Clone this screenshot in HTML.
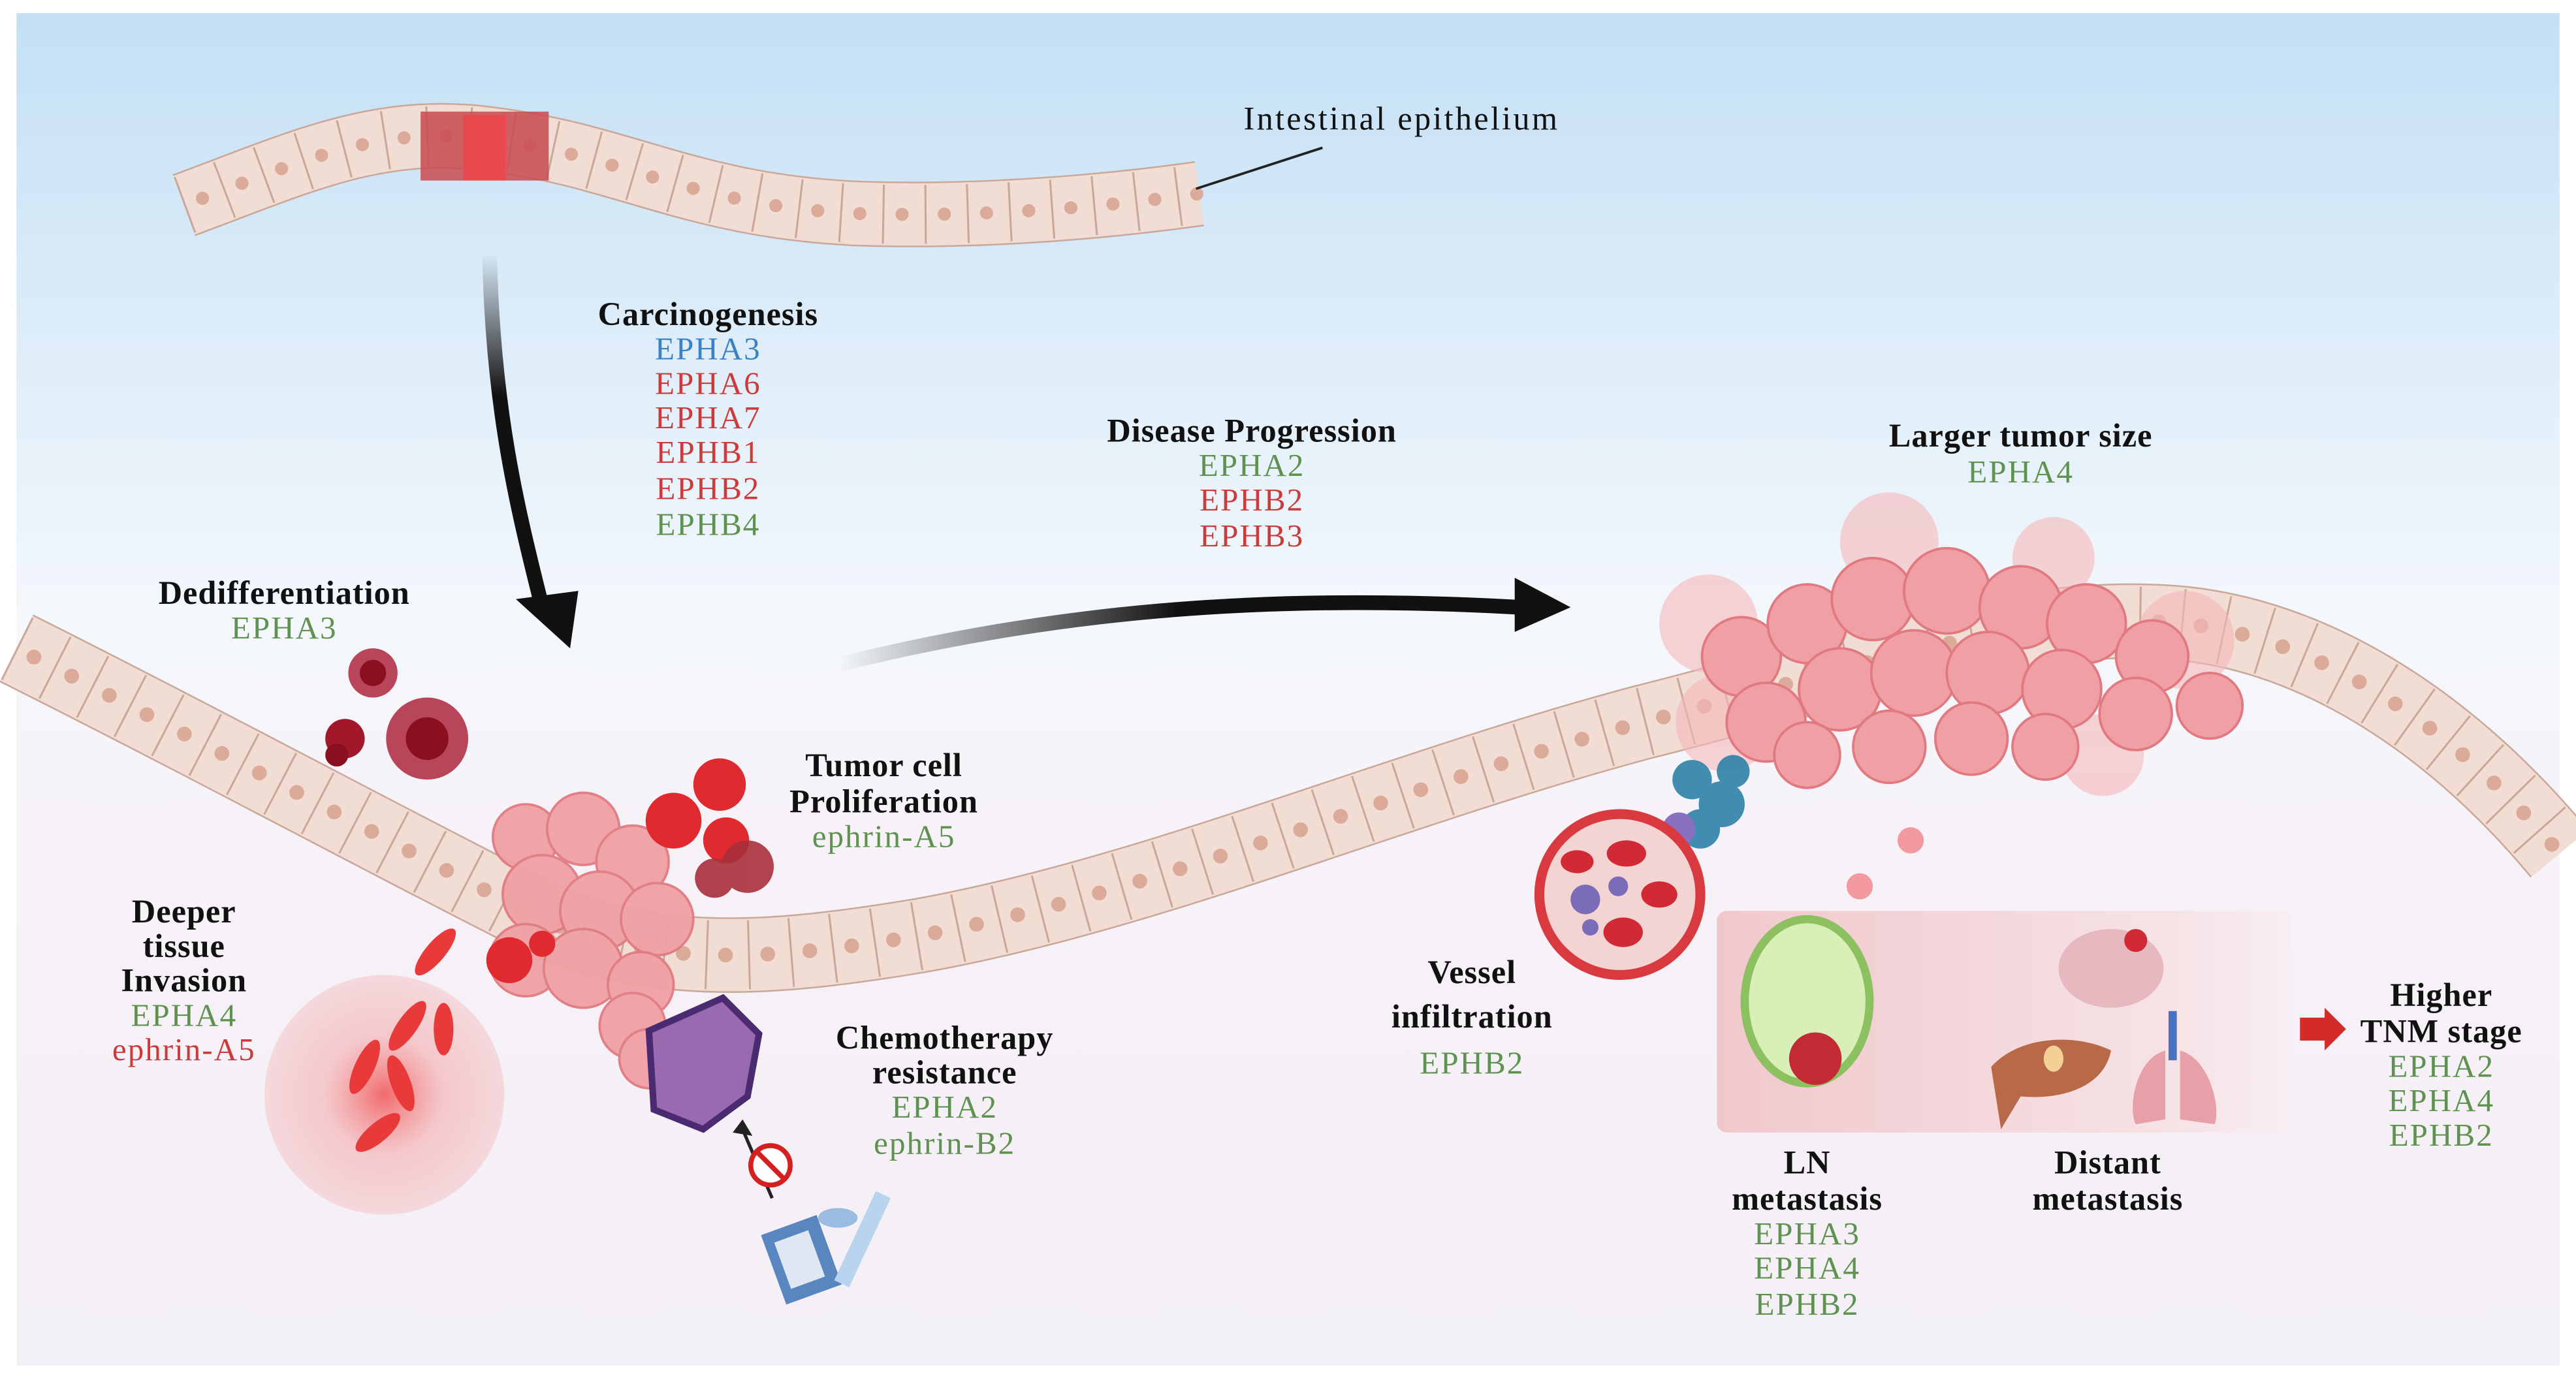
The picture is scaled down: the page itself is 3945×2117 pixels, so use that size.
<!DOCTYPE html>
<html><head><meta charset="utf-8"><style>
html,body{margin:0;padding:0;background:#fff;}
svg{display:block;}
text{font-family:"Liberation Serif",serif;text-anchor:middle;}
.t{font-weight:bold;fill:#111;font-size:20px;letter-spacing:0.4px;}
.g{fill:#5f9150;font-size:19.5px;letter-spacing:0.8px;}
.r{fill:#cc3b3b;font-size:19.5px;letter-spacing:0.8px;}
.b{fill:#3b82c4;font-size:19.5px;letter-spacing:0.8px;}
</style></head><body>
<svg width="3945" height="2117" viewBox="0 0 1568 842" preserveAspectRatio="none" xmlns="http://www.w3.org/2000/svg">
<defs>
<linearGradient id="bg" x1="0" y1="0" x2="0" y2="1">
<stop offset="0" stop-color="#c3e0f5"/><stop offset="0.45" stop-color="#f4f8fc"/><stop offset="0.6" stop-color="#f6f2f7"/><stop offset="1" stop-color="#f3eff6"/></linearGradient>
<linearGradient id="a1" x1="0" y1="0" x2="0" y2="1"><stop offset="0" stop-color="#111" stop-opacity="0"/><stop offset="0.4" stop-color="#111"/></linearGradient>
<linearGradient id="a2" x1="0" y1="0" x2="1" y2="0"><stop offset="0" stop-color="#111" stop-opacity="0"/><stop offset="0.5" stop-color="#111"/></linearGradient>
<radialGradient id="glow"><stop offset="0" stop-color="#f04848" stop-opacity="0.8"/><stop offset="0.5" stop-color="#f4a0a0" stop-opacity="0.5"/><stop offset="1" stop-color="#f4c0c0" stop-opacity="0.5"/></radialGradient>
<linearGradient id="box" x1="0" y1="0" x2="1" y2="0"><stop offset="0" stop-color="#f0c8cc"/><stop offset="0.8" stop-color="#f6e3e6"/><stop offset="1" stop-color="#f8eef2"/></linearGradient>
</defs>
<rect x="10" y="8" width="1548" height="824" fill="url(#bg)"/>
<g fill="none">
<path d="M112,125 C180,100 230,75 300,85 C380,95 420,125 520,130 C600,133 680,125 730,118" stroke="#c9a89a" stroke-width="40"/>
<path d="M112,125 C180,100 230,75 300,85 C380,95 420,125 520,130 C600,133 680,125 730,118" stroke="#f1ddd3" stroke-width="38"/>
<path d="M112,125 C180,100 230,75 300,85 C380,95 420,125 520,130 C600,133 680,125 730,118" stroke="#c9a89a" stroke-width="36" stroke-dasharray="1.2 24.5"/>
<path d="M112,125 C180,100 230,75 300,85 C380,95 420,125 520,130 C600,133 680,125 730,118" stroke="#dcaa98" stroke-width="8" stroke-linecap="round" stroke-dasharray="0 25.7" stroke-dashoffset="-12"/>
</g>
<rect x="256" y="68" width="78" height="42" fill="#c84a50" opacity="0.85"/>
<rect x="282" y="70" width="26" height="40" fill="#e84a50"/>
<line x1="728" y1="115" x2="805" y2="90" stroke="#222" stroke-width="1.5"/>
<g fill="none">
<path d="M10,395 C120,450 250,520 330,560 C400,590 470,585 560,570 C700,545 850,480 1000,440 C1120,410 1230,370 1330,380 C1420,390 1500,450 1558,520" stroke="#c9a89a" stroke-width="46"/>
<path d="M10,395 C120,450 250,520 330,560 C400,590 470,585 560,570 C700,545 850,480 1000,440 C1120,410 1230,370 1330,380 C1420,390 1500,450 1558,520" stroke="#f1ddd3" stroke-width="44"/>
<path d="M10,395 C120,450 250,520 330,560 C400,590 470,585 560,570 C700,545 850,480 1000,440 C1120,410 1230,370 1330,380 C1420,390 1500,450 1558,520" stroke="#c9a89a" stroke-width="42" stroke-dasharray="1.2 24.5"/>
<path d="M10,395 C120,450 250,520 330,560 C400,590 470,585 560,570 C700,545 850,480 1000,440 C1120,410 1230,370 1330,380 C1420,390 1500,450 1558,520" stroke="#dcaa98" stroke-width="9" stroke-linecap="round" stroke-dasharray="0 25.7" stroke-dashoffset="-12"/>
</g>
<path d="M298,155 C300,250 315,310 330,370" stroke="url(#a1)" stroke-width="9" fill="none"/>
<polygon points="314,365 352,360 347,395" fill="#111"/>
<path d="M510,405 C650,370 780,362 925,370" stroke="url(#a2)" stroke-width="9" fill="none"/>
<polygon points="922,352 956,370 922,385" fill="#111"/>
<circle cx="234" cy="667" r="73" fill="url(#glow)"/>
<g fill="#e83a3a"><ellipse cx="248" cy="625" rx="6" ry="18" transform="rotate(35 248 625)"/><ellipse cx="270" cy="627" rx="6" ry="16"/><ellipse cx="222" cy="650" rx="6" ry="18" transform="rotate(25 222 650)"/><ellipse cx="244" cy="660" rx="6" ry="18" transform="rotate(-20 244 660)"/><ellipse cx="230" cy="690" rx="6" ry="17" transform="rotate(50 230 690)"/><ellipse cx="265" cy="580" rx="6" ry="18" transform="rotate(40 265 580)"/></g>
<circle cx="227" cy="410" r="15" fill="#b8455a"/><circle cx="227" cy="410" r="8" fill="#8a1020"/>
<circle cx="260" cy="450" r="25" fill="#b8455a"/><circle cx="260" cy="450" r="13" fill="#8a1020"/>
<circle cx="210" cy="450" r="12" fill="#a0182a"/><circle cx="205" cy="460" r="7" fill="#8a1020"/>
<g fill="#f0a0a4" stroke="#e07a80" stroke-width="1.5" opacity="0.95">
<circle cx="320" cy="510" r="20"/><circle cx="355" cy="505" r="22"/><circle cx="385" cy="525" r="22"/><circle cx="330" cy="545" r="24"/><circle cx="365" cy="555" r="24"/><circle cx="400" cy="560" r="22"/><circle cx="320" cy="585" r="22"/><circle cx="355" cy="590" r="24"/><circle cx="390" cy="600" r="20"/><circle cx="385" cy="625" r="20"/><circle cx="395" cy="645" r="18"/></g>
<g fill="#e02a30"><circle cx="438" cy="478" r="16"/><circle cx="410" cy="500" r="17"/><circle cx="442" cy="512" r="14"/><circle cx="310" cy="585" r="14"/><circle cx="330" cy="575" r="8"/></g>
<g fill="#a8303a" opacity="0.9"><circle cx="455" cy="528" r="16"/><circle cx="435" cy="535" r="12"/></g>
<path d="M395,628 L440,608 L462,630 L455,668 L428,688 L398,676 Z" fill="#9a6ab0" stroke="#4a2a70" stroke-width="4"/>
<line x1="470" y1="730" x2="452" y2="688" stroke="#222" stroke-width="2"/><polygon points="446,690 452,682 458,692" fill="#222"/>
<circle cx="469" cy="710" r="12" fill="#fff" stroke="#d42020" stroke-width="3"/><line x1="461" y1="702" x2="477" y2="718" stroke="#d42020" stroke-width="3"/>
<rect x="470" y="745" width="36" height="45" fill="#5a86c0" transform="rotate(-20 488 768)"/><rect x="476" y="752" width="22" height="30" fill="#dfe8f2" transform="rotate(-20 488 768)"/>
<rect x="520" y="725" width="10" height="60" fill="#b8d4ee" transform="rotate(25 525 755)"/>
<ellipse cx="510" cy="742" rx="12" ry="6" fill="#9cbbe0"/>
<g fill="#f5b8bb" opacity="0.6"><circle cx="1040" cy="380" r="30"/><circle cx="1150" cy="330" r="30"/><circle cx="1250" cy="340" r="25"/><circle cx="1330" cy="390" r="30"/><circle cx="1050" cy="440" r="30"/><circle cx="1280" cy="460" r="25"/></g>
<g fill="#f0a0a4" stroke="#e07a80" stroke-width="1.5">
<circle cx="1060" cy="400" r="24"/><circle cx="1100" cy="380" r="24"/><circle cx="1140" cy="365" r="25"/><circle cx="1185" cy="360" r="26"/><circle cx="1230" cy="370" r="25"/><circle cx="1270" cy="380" r="24"/><circle cx="1310" cy="400" r="22"/><circle cx="1345" cy="430" r="20"/>
<circle cx="1075" cy="440" r="24"/><circle cx="1120" cy="420" r="25"/><circle cx="1165" cy="410" r="26"/><circle cx="1210" cy="410" r="25"/><circle cx="1255" cy="420" r="24"/><circle cx="1300" cy="435" r="22"/>
<circle cx="1100" cy="460" r="20"/><circle cx="1150" cy="455" r="22"/><circle cx="1200" cy="450" r="22"/><circle cx="1245" cy="455" r="20"/></g>
<g fill="#2e82a8" opacity="0.9"><circle cx="1030" cy="475" r="12"/><circle cx="1048" cy="490" r="14"/><circle cx="1035" cy="505" r="12"/><circle cx="1055" cy="470" r="10"/></g>
<circle cx="1022" cy="505" r="10" fill="#8a70c0"/>
<circle cx="986" cy="545" r="52" fill="#d83a40"/><circle cx="986" cy="545" r="46" fill="#f4d4d2"/>
<g fill="#d22a34"><ellipse cx="990" cy="520" rx="12" ry="8"/><ellipse cx="1010" cy="545" rx="11" ry="8"/><ellipse cx="988" cy="568" rx="12" ry="9"/><ellipse cx="960" cy="525" rx="10" ry="7"/></g>
<g fill="#7a6cb8"><circle cx="965" cy="548" r="9"/><circle cx="985" cy="540" r="6"/><circle cx="968" cy="565" r="5"/></g>
<circle cx="1163" cy="512" r="8" fill="#f39aa0"/><circle cx="1132" cy="540" r="8" fill="#f39aa0"/><circle cx="1155" cy="590" r="8" fill="#f39aa0"/>
<rect x="1045" y="555" width="350" height="135" rx="6" fill="url(#box)"/>
<ellipse cx="1100" cy="610" rx="38" ry="50" fill="#d8f0b8" stroke="#8cc060" stroke-width="5"/>
<circle cx="1105" cy="645" r="16" fill="#c22a34"/>
<ellipse cx="1285" cy="590" rx="32" ry="24" fill="#e6b8c0"/><circle cx="1300" cy="573" r="7" fill="#d02a34"/>
<path d="M1212,650 C1230,630 1265,630 1285,640 C1280,665 1250,670 1230,668 L1218,688 Z" fill="#b86a48"/>
<ellipse cx="1250" cy="645" rx="6" ry="8" fill="#f4d098"/>
<rect x="1320" y="616" width="5" height="30" fill="#4a72c0"/>
<path d="M1318,640 C1300,645 1295,675 1300,685 L1318,682 Z" fill="#e8a0a8"/><path d="M1327,640 C1345,645 1352,675 1348,685 L1327,682 Z" fill="#e8a0a8"/>
<polygon points="1400,620 1415,620 1415,614 1428,627 1415,640 1415,634 1400,634" fill="#d42a2a"/>
<text x="757" y="79" style="text-anchor:start;font-size:20px;letter-spacing:1.3px;fill:#111">Intestinal epithelium</text>
<text class="t" x="431" y="198">Carcinogenesis</text>
<text class="b" x="431" y="219">EPHA3</text><text class="r" x="431" y="240">EPHA6</text><text class="r" x="431" y="261">EPHA7</text><text class="r" x="431" y="282">EPHB1</text><text class="r" x="431" y="304">EPHB2</text><text class="g" x="431" y="326">EPHB4</text>
<text class="t" x="762" y="269">Disease Progression</text>
<text class="g" x="762" y="290">EPHA2</text><text class="r" x="762" y="311">EPHB2</text><text class="r" x="762" y="333">EPHB3</text>
<text class="t" x="1230" y="272">Larger tumor size</text><text class="g" x="1230" y="294">EPHA4</text>
<text class="t" x="173" y="368">Dedifferentiation</text><text class="g" x="173" y="389">EPHA3</text>
<text class="t" x="538" y="473">Tumor cell</text><text class="t" x="538" y="495">Proliferation</text><text class="g" x="538" y="516">ephrin-A5</text>
<text class="t" x="112" y="562">Deeper</text><text class="t" x="112" y="583">tissue</text><text class="t" x="112" y="604">Invasion</text><text class="g" x="112" y="625">EPHA4</text><text class="r" x="112" y="646">ephrin-A5</text>
<text class="t" x="575" y="639">Chemotherapy</text><text class="t" x="575" y="660">resistance</text><text class="g" x="575" y="681">EPHA2</text><text class="g" x="575" y="703">ephrin-B2</text>
<text class="t" x="896" y="599">Vessel</text><text class="t" x="896" y="626">infiltration</text><text class="g" x="896" y="654">EPHB2</text>
<text class="t" x="1486" y="613">Higher</text><text class="t" x="1486" y="635">TNM stage</text><text class="g" x="1486" y="656">EPHA2</text><text class="g" x="1486" y="677">EPHA4</text><text class="g" x="1486" y="698">EPHB2</text>
<text class="t" x="1100" y="715">LN</text><text class="t" x="1100" y="737">metastasis</text><text class="g" x="1100" y="758">EPHA3</text><text class="g" x="1100" y="779">EPHA4</text><text class="g" x="1100" y="801">EPHB2</text>
<text class="t" x="1283" y="715">Distant</text><text class="t" x="1283" y="737">metastasis</text>
</svg>
</body></html>
